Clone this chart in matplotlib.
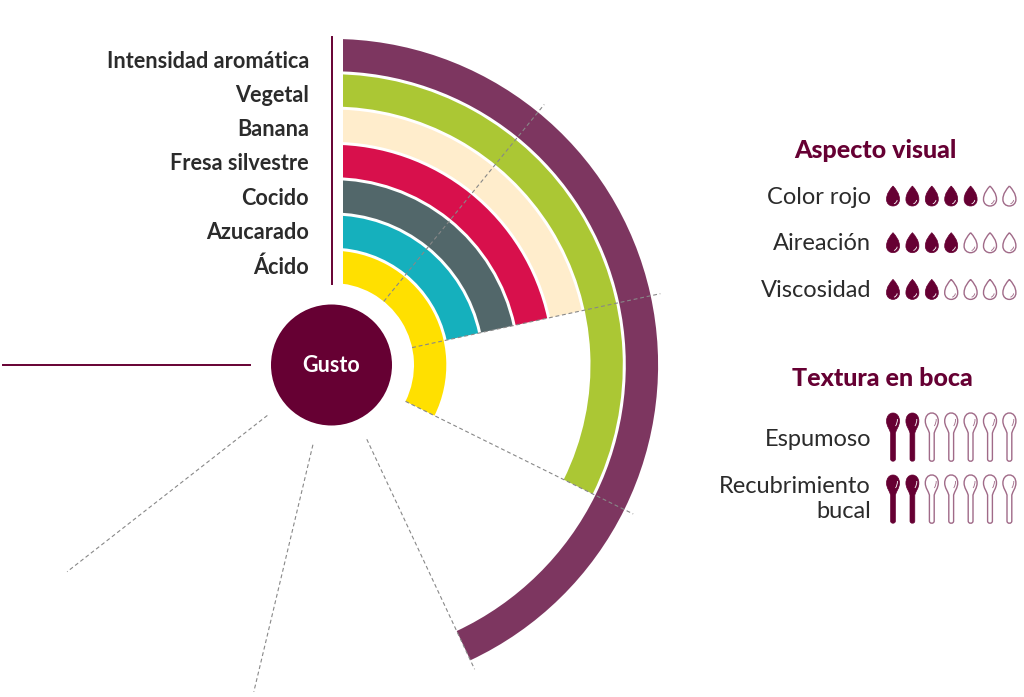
import numpy as np
from matplotlib import pyplot as plt
from matplotlib.patches import Circle, PathPatch, Rectangle
from matplotlib.path import Path

# sabores, from the outer ring to the inner one
flavours = ['Intensidad aromática', 'Vegetal', 'Banana', 'Fresa silvestre', 'Cocido', 'Azucarado', 'Ácido']
flavour_scores = [4, 3, 2, 2, 2, 2, 3]
flavour_colors = ['#7d3660', '#abc734', '#ffedcc', '#d8104c', '#52676a', '#15b0bd', '#ffe000']
scale_max = 7

visual_labels = ['Color rojo', 'Aireación', 'Viscosidad']
visual_scores = [5, 4, 3]
texture_labels = ['Espumoso', 'Recubrimiento\nbucal']
texture_scores = [2, 2]

WINE = '#660033'
OUTLINE = '#a06a88'
DARK = '#2b2b2b'
FONT = 'Lato'

WIDTH, HEIGHT = 1024, 697
CX, CY = 332, 365
RMAX = 345
RING = 35.3
INNER = 82
GAP = 3


def drop_path(x, y):
    verts = [(0, -10), (3, -6.5), (6.5, -2.5), (6.5, 3.5), (6.5, 7.5), (3.5, 10), (0, 10),
             (-3.5, 10), (-6.5, 7.5), (-6.5, 3.5), (-6.5, -2.5), (-3, -6.5), (0, -10)]
    codes = [Path.MOVETO] + [Path.CURVE4] * 12
    return Path(np.array(verts) + (x, y), codes)


def spoon_path(x, y):
    verts = [(0, 0), (4, 0), (6.5, 3.5), (6.5, 8), (6.5, 13), (3.5, 16), (2.4, 20),
             (2.4, 46), (2.4, 49), (-2.4, 49), (-2.4, 46),
             (-2.4, 20), (-3.5, 16), (-6.5, 13), (-6.5, 8), (-6.5, 3.5), (-4, 0), (0, 0)]
    codes = [Path.MOVETO, Path.CURVE4, Path.CURVE4, Path.CURVE4, Path.CURVE4, Path.CURVE4, Path.CURVE4,
             Path.LINETO, Path.CURVE4, Path.CURVE4, Path.CURVE4,
             Path.LINETO, Path.CURVE4, Path.CURVE4, Path.CURVE4, Path.CURVE4, Path.CURVE4, Path.CURVE4]
    return Path(np.array(verts) + (x, y), codes)


def add_shine(ax, verts, color):
    path = Path(verts, [Path.MOVETO, Path.CURVE3, Path.CURVE3])
    ax.add_patch(PathPatch(path, fc='none', ec=color, lw=0.6))


def draw_drop(ax, x, y, filled):
    shine = [(x + 4.2, y + 4), (x + 3.8, y + 7), (x + 1, y + 7.8)]
    if filled:
        ax.add_patch(PathPatch(drop_path(x, y), fc=WINE, ec=WINE, lw=0.5))
        add_shine(ax, shine, 'white')
    else:
        ax.add_patch(PathPatch(drop_path(x, y), fc='white', ec=OUTLINE, lw=1))
        add_shine(ax, shine, OUTLINE)


def draw_spoon(ax, x, y, filled):
    shine = [(x + 4.4, y + 6), (x + 4.6, y + 10), (x + 2.5, y + 13)]
    if filled:
        ax.add_patch(PathPatch(spoon_path(x, y), fc=WINE, ec=WINE, lw=0.5))
        add_shine(ax, shine, 'white')
    else:
        ax.add_patch(PathPatch(spoon_path(x, y), fc='white', ec=OUTLINE, lw=1))
        add_shine(ax, shine, OUTLINE)


fig = plt.figure(figsize=(WIDTH / 100, HEIGHT / 100), dpi=100)
plt.rcParams['font.family'] = [FONT, 'DejaVu Sans']

# polar axes centred on the Gusto circle, radius in pixels
ax = fig.add_axes([(CX - RMAX) / WIDTH, (HEIGHT - CY - RMAX) / HEIGHT, 2 * RMAX / WIDTH, 2 * RMAX / HEIGHT],
                  projection='polar')
ax.set_theta_zero_location('N')
ax.set_theta_direction(-1)
ax.set_ylim(0, RMAX)
ax.axis('off')

# overlay in pixel coordinates for texts and icons
ax_px = fig.add_axes([0, 0, 1, 1])
ax_px.set_xlim(0, WIDTH)
ax_px.set_ylim(HEIGHT, 0)
ax_px.axis('off')

step = 2 * np.pi * (270 / 360) / scale_max
shift = np.radians(0.6)
clip_box = Rectangle((343, 0), WIDTH, HEIGHT, transform=ax_px.transData)

for i, (score, color) in enumerate(zip(flavour_scores, flavour_colors)):
    bottom = INNER + RING * (len(flavours) - 1 - i)
    bars = ax.bar(0, RING - GAP, width=score * step + shift, bottom=bottom, align='edge', color=color, linewidth=0)
    bars[0].set_clip_path(clip_box)

for k in range(1, scale_max):
    theta = k * step + shift
    ax.plot([theta, theta], [INNER, 336], color='#888888', lw=0.8, ls=(0, (3.5, 2.5)))

ax.plot([0, 0], [INNER - 1, 328], color=WINE, lw=1.4)
ax.plot([scale_max * step] * 2, [INNER, 329], color=WINE, lw=1.4)

ax_px.add_patch(Circle((CX - 0.5, CY), 60.5, fc=WINE, ec='none'))
ax_px.text(CX - 1, CY, 'Gusto', color='white', fontsize=15.5, fontweight='bold', ha='center', va='center')

for i, label in enumerate(flavours):
    ax_px.text(309, 61 + 34.3 * i, label, color=DARK, fontsize=15.6, fontweight='bold', ha='right', va='center')

ax_px.text(875, 151, 'Aspecto visual', color=WINE, fontsize=18, fontweight='black', ha='center', va='center')
ax_px.text(882, 378, 'Textura en boca', color=WINE, fontsize=18, fontweight='black', ha='center', va='center')

icon_x = 893 + 19.4 * np.arange(scale_max)

for i, (label, score) in enumerate(zip(visual_labels, visual_scores)):
    y = 196 + 46.7 * i
    ax_px.text(871, y + 1, label, color=DARK, fontsize=17, ha='right', va='center')
    for k, x in enumerate(icon_x):
        draw_drop(ax_px, x, y, k < score)

for i, (label, score) in enumerate(zip(texture_labels, texture_scores)):
    y = 413 + 62 * i
    ax_px.text(871, y + 27 - 3 * i, label, color=DARK, fontsize=17, ha='right', va='center',
               multialignment='right', linespacing=1.25)
    for k, x in enumerate(icon_x):
        draw_spoon(ax_px, x, y, k < score)

plt.savefig('out.png', dpi=100)
plt.close()
